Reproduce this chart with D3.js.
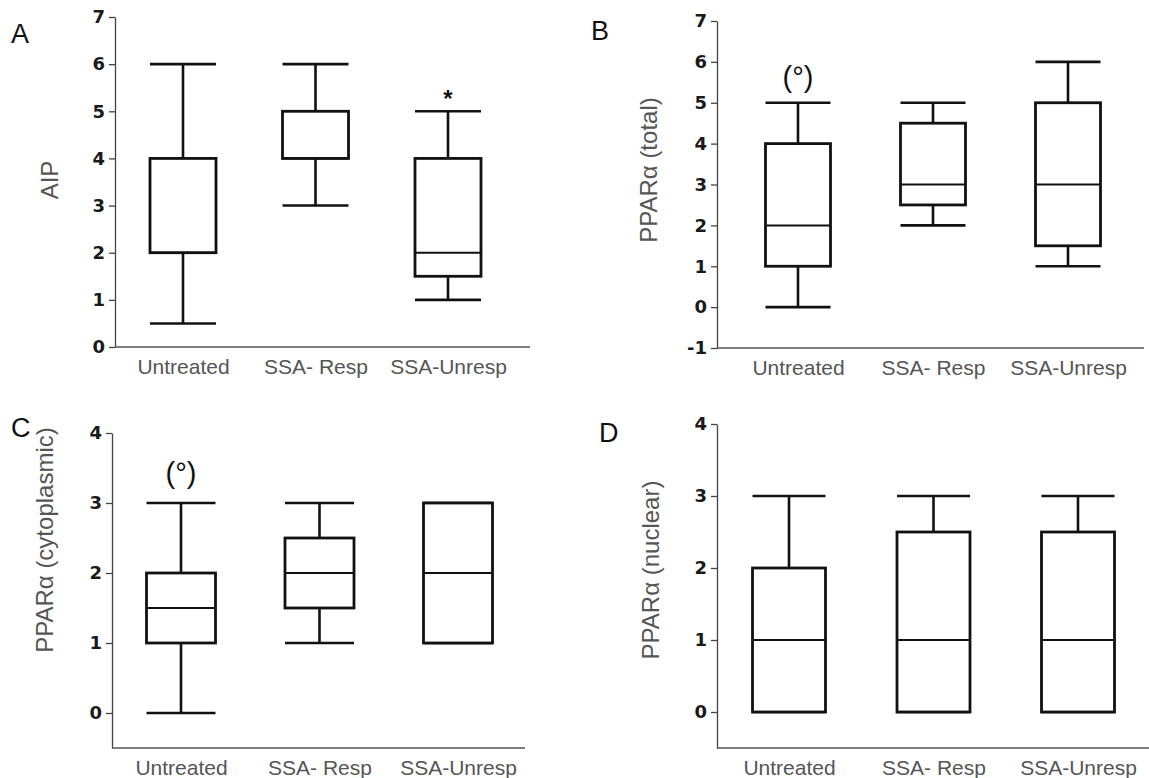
<!DOCTYPE html>
<html>
<head>
<meta charset="utf-8">
<script src="https://cdn.jsdelivr.net/npm/d3@7"></script>
<style>
  body { margin: 0; background: #fff; }
  svg { display: block; }
</style>
</head>
<body>
<div id="chart"></div>
<script>
// categories shared by all four panels
var groups = ["Untreated", "SSA- Resp", "SSA-Unresp"];

// A: AIP
var aipMin = [0.5, 3, 1];
var aipQ1 = [2, 4, 1.5];
var aipMed = [2, 4, 2];
var aipQ3 = [4, 5, 4];
var aipMax = [6, 6, 5];
var aipTicks = [0, 1, 2, 3, 4, 5, 6, 7];

// B: PPARα (total)
var totMin = [0, 2, 1];
var totQ1 = [1, 2.5, 1.5];
var totMed = [2, 3, 3];
var totQ3 = [4, 4.5, 5];
var totMax = [5, 5, 6];
var totTicks = [-1, 0, 1, 2, 3, 4, 5, 6, 7];

// C: PPARα (cytoplasmic)
var cytMin = [0, 1, 1];
var cytQ1 = [1, 1.5, 1];
var cytMed = [1.5, 2, 2];
var cytQ3 = [2, 2.5, 3];
var cytMax = [3, 3, 3];
var cytTicks = [0, 1, 2, 3, 4];

// D: PPARα (nuclear)
var nucMin = [0, 0, 0];
var nucQ1 = [0, 0, 0];
var nucMed = [1, 1, 1];
var nucQ3 = [2, 2.5, 2.5];
var nucMax = [3, 3, 3];
var nucTicks = [0, 1, 2, 3, 4];

// significance marks: [group, value, text]
var aipMarks = [["SSA-Unresp", 5.45, "*"]];
var totMarks = [["Untreated", 5.63, "(°)"]];
var cytMarks = [["Untreated", 3.43, "(°)"]];

function rows(mn, q1, md, q3, mx) {
    return groups.map(function (g, i) {
        return { group: g, min: mn[i], q1: q1[i], med: md[i], q3: q3[i], max: mx[i] };
    });
}

var svg = d3.select("#chart").append("svg")
    .attr("width", 1149)
    .attr("height", 778);

var font = '"Liberation Sans", Arial, sans-serif';

function panel(p) {
    var g = svg.append("g");

    var y = d3.scaleLinear().domain(p.domain).range([p.bottom, p.top]);
    var x = d3.scalePoint().domain(groups).range(p.xr);

    // y axis (plain hyphen for negatives, like the original)
    var yAxis = d3.axisLeft(y)
        .tickValues(p.ticks)
        .tickFormat(function (d) { return String(d); })
        .tickSize(6)
        .tickSizeOuter(0)
        .tickPadding(4);

    var ya = g.append("g")
        .attr("transform", "translate(" + p.left + ",0)")
        .call(yAxis);
    ya.select(".domain").attr("stroke", "#444").attr("stroke-width", 1.3);
    ya.selectAll(".tick line").attr("stroke", "#444").attr("stroke-width", 1.3);
    ya.selectAll(".tick text")
        .attr("fill", "#1a1a1a")
        .style("font-family", '"DejaVu Sans", sans-serif')
        .style("font-size", "18px")
        .style("font-weight", "bold");

    // x axis, plain line with the group labels
    var xAxis = d3.axisBottom(x).tickSize(0).tickPadding(12);
    var xa = g.append("g")
        .attr("transform", "translate(0," + p.bottom + ")")
        .call(xAxis);
    xa.select(".domain")
        .attr("d", "M" + p.left + ",0H" + p.right)
        .attr("stroke", "#555").attr("stroke-width", 1.3);
    xa.selectAll(".tick text")
        .attr("fill", "#555")
        .style("font-family", font)
        .style("font-size", "21px");

    // y title
    g.append("text")
        .attr("transform", "translate(" + p.titleX + "," + p.titleY + ") rotate(-90)")
        .attr("text-anchor", "middle")
        .attr("font-family", font)
        .attr("font-size", 24)
        .attr("fill", "#555")
        .text(p.title);

    // panel letter
    g.append("text")
        .attr("x", p.letterX)
        .attr("y", p.letterY)
        .attr("font-family", font)
        .attr("font-size", 27)
        .attr("fill", "#111")
        .text(p.letter);

    var bw = p.boxW;
    var box = g.selectAll(".box")
        .data(p.data)
        .enter().append("g")
        .attr("class", "box")
        .attr("fill", "none")
        .attr("stroke", "#111");

    // whiskers
    box.append("line")
        .attr("x1", function (d) { return x(d.group); })
        .attr("x2", function (d) { return x(d.group); })
        .attr("y1", function (d) { return y(d.max); })
        .attr("y2", function (d) { return y(d.q3); })
        .attr("stroke-width", 2.6);
    box.append("line")
        .attr("x1", function (d) { return x(d.group); })
        .attr("x2", function (d) { return x(d.group); })
        .attr("y1", function (d) { return y(d.q1); })
        .attr("y2", function (d) { return y(d.min); })
        .attr("stroke-width", 2.6);
    // caps
    box.append("line")
        .attr("x1", function (d) { return x(d.group) - bw / 2; })
        .attr("x2", function (d) { return x(d.group) + bw / 2; })
        .attr("y1", function (d) { return y(d.max); })
        .attr("y2", function (d) { return y(d.max); })
        .attr("stroke-width", 2.6);
    box.append("line")
        .attr("x1", function (d) { return x(d.group) - bw / 2; })
        .attr("x2", function (d) { return x(d.group) + bw / 2; })
        .attr("y1", function (d) { return y(d.min); })
        .attr("y2", function (d) { return y(d.min); })
        .attr("stroke-width", 2.6);
    // box
    box.append("rect")
        .attr("x", function (d) { return x(d.group) - bw / 2; })
        .attr("y", function (d) { return y(d.q3); })
        .attr("width", bw)
        .attr("height", function (d) { return y(d.q1) - y(d.q3); })
        .attr("fill", "#fff")
        .attr("stroke-width", 2.8);
    // median
    box.append("line")
        .attr("x1", function (d) { return x(d.group) - bw / 2; })
        .attr("x2", function (d) { return x(d.group) + bw / 2; })
        .attr("y1", function (d) { return y(d.med); })
        .attr("y2", function (d) { return y(d.med); })
        .attr("stroke-width", 2);

    // significance marks
    g.selectAll(".mark")
        .data(p.marks)
        .enter().append("text")
        .attr("class", "mark")
        .attr("x", function (d) { return x(d[0]); })
        .attr("y", function (d) { return y(d[1]); })
        .attr("dy", function (d) { return d[2] === "*" ? "0.7em" : "0.35em"; })
        .attr("text-anchor", "middle")
        .attr("font-family", font)
        .attr("font-size", function (d) { return d[2] === "*" ? 24 : 29; })
        .attr("font-weight", function (d) { return d[2] === "*" ? "bold" : "normal"; })
        .attr("fill", "#111")
        .text(function (d) { return d[2]; });
}

panel({
    letter: "A", letterX: 11, letterY: 43,
    title: "AIP", titleX: 58, titleY: 180,
    left: 115, right: 530, top: 17, bottom: 347,
    domain: [0, 7], ticks: aipTicks, xr: [183, 448], boxW: 66,
    data: rows(aipMin, aipQ1, aipMed, aipQ3, aipMax), marks: aipMarks
});

panel({
    letter: "B", letterX: 591, letterY: 40,
    title: "PPARα (total)", titleX: 657, titleY: 170,
    left: 717, right: 1144, top: 21, bottom: 348,
    domain: [-1, 7], ticks: totTicks, xr: [798, 1068], boxW: 65,
    data: rows(totMin, totQ1, totMed, totQ3, totMax), marks: totMarks
});

panel({
    letter: "C", letterX: 11, letterY: 437,
    title: "PPARα (cytoplasmic)", titleX: 53, titleY: 540,
    left: 112, right: 525, top: 433, bottom: 748,
    domain: [-0.5, 4], ticks: cytTicks, xr: [181, 458], boxW: 69,
    data: rows(cytMin, cytQ1, cytMed, cytQ3, cytMax), marks: cytMarks
});

panel({
    letter: "D", letterX: 599, letterY: 442,
    title: "PPARα (nuclear)", titleX: 659, titleY: 570,
    left: 717, right: 1149, top: 424, bottom: 748,
    domain: [-0.5, 4], ticks: nucTicks, xr: [789, 1078], boxW: 73,
    data: rows(nucMin, nucQ1, nucMed, nucQ3, nucMax), marks: []
});
</script>
</body>
</html>
